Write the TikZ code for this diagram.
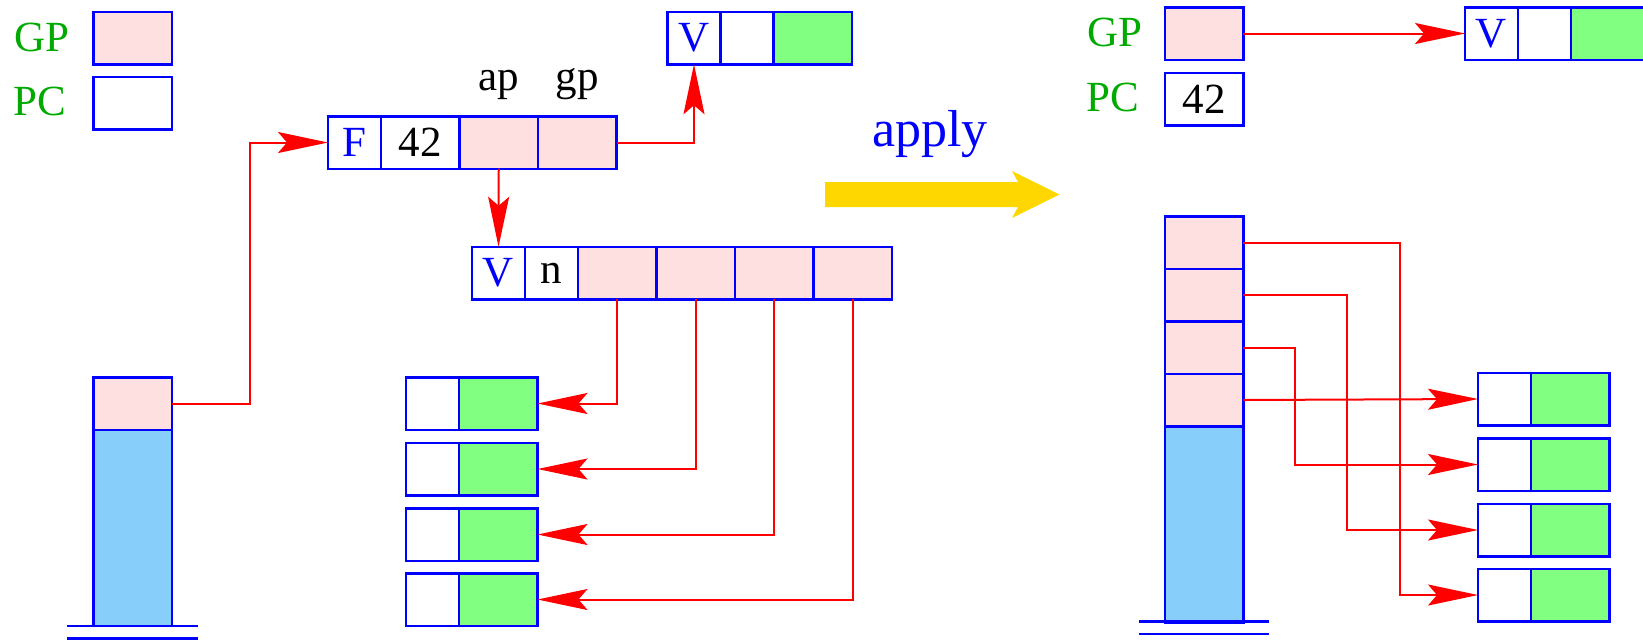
\documentclass[tikz,border=0pt]{standalone}
\usepackage{fontspec}
\setmainfont{Liberation Serif}
\usetikzlibrary{arrows.meta}
\definecolor{cpink}{RGB}{255,224,224}
\definecolor{cgreen}{RGB}{128,255,128}
\definecolor{cblue}{RGB}{135,206,250}
\definecolor{cgold}{RGB}{255,215,0}
\definecolor{tgreen}{RGB}{0,170,0}
\begin{document}
\begin{tikzpicture}[x=0.5pt,y=-0.5pt,
  cell/.style={draw=blue, line width=1.25pt, rectangle, inner sep=0pt, outer sep=0pt,
    minimum height=26.25pt, font=\fontsize{21.5pt}{24pt}\selectfont},
  nar/.style={cell, minimum width=26.5pt},
  wid/.style={cell, minimum width=39.25pt},
  pk/.style={fill=cpink},
  gr/.style={fill=cgreen},
  bl/.style={fill=cblue},
  lab/.style={inner sep=0pt, font=\fontsize{21.5pt}{24pt}\selectfont},
  reg/.style={lab, text=tgreen},
  conn/.style={draw=red, line width=1pt, -{Stealth[length=25pt,width=10.5pt,inset=4.5pt]}},
  floor/.style={draw=blue, line width=1.25pt}]
\useasboundingbox (0,0) rectangle (1643,639);

% ---------- left: registers ----------
\node[reg] (lGP) at (42,37) {GP};
\node[reg] (lPC) at (40,101) {PC};
\node[wid,pk] (gpL) at (132.5,38) {};
\node[wid] (pcL) at (132.5,103) {};

% F object
\node[nar,text=blue] (fF) at (354.5,142.5) {F};
\node[wid,anchor=west] (f42) at (fF.east) {42};
\node[wid,pk,anchor=west] (fap) at (f42.east) {};
\node[wid,pk,anchor=west] (fgp) at (fap.east) {};
\node[lab,anchor=base] (lap) at (498.5,90.5) {ap};
\node[lab,anchor=base] (lgp) at (577,90.5) {gp};

% V object (global vector)
\node[nar,text=blue] (v1) at (694,38) {V};
\node[nar,anchor=west] (v2) at (v1.east) {};
\node[wid,gr,anchor=west] (v3) at (v2.east) {};

% V n object
\node[nar,text=blue] (vV) at (498.5,273) {V};
\node[nar,anchor=west] (vn) at (vV.east) {n};
\node[wid,pk,anchor=west] (p1) at (vn.east) {};
\node[wid,pk,anchor=west] (p2) at (p1.east) {};
\node[wid,pk,anchor=west] (p3) at (p2.east) {};
\node[wid,pk,anchor=west] (p4) at (p3.east) {};

% small boxes left
\node[nar] (sw1) at (432.5,403.5) {};
\node[wid,gr,anchor=west] (sg1) at (sw1.east) {};
\node[nar] (sw2) at (432.5,469) {};
\node[wid,gr,anchor=west] (sg2) at (sw2.east) {};
\node[nar] (sw3) at (432.5,534.5) {};
\node[wid,gr,anchor=west] (sg3) at (sw3.east) {};
\node[nar] (sw4) at (432.5,599.5) {};
\node[wid,gr,anchor=west] (sg4) at (sw4.east) {};

% left stack
\node[wid,pk] (lp) at (132.5,403.5) {};
\node[wid,bl,anchor=north,minimum height=98pt] (lb) at (lp.south) {};
\draw[floor] (67,626) -- (198,626);
\draw[floor] (67,638.5) -- (198,638.5);

% left connectors
\draw[conn] (lp.east) -- ++(78,0) |- (fF.west);
\draw[conn] (fgp.east) -| (v1.south);
\draw[conn] (fap.south) -- (vV.north);
\draw[conn] (p1.south) |- (sg1.east);
\draw[conn] (p2.south) |- (sg2.east);
\draw[conn] (p3.south) |- (sg3.east);
\draw[conn] (p4.south) |- (sg4.east);

% ---------- transition ----------
\node[lab,anchor=base,text=blue,font=\fontsize{26pt}{30pt}\selectfont] (apply) at (930,146) {apply};
\fill[cgold] (825,182) -- (1018,182) -- (1012,171) -- (1059.5,194.5) -- (1012,218) -- (1018,207) -- (825,207) -- cycle;

% ---------- right ----------
\node[reg] (rGP) at (1114.5,32) {GP};
\node[reg] (rPC) at (1113,97) {PC};
\node[wid,pk] (gpR) at (1204,33.5) {};
\node[wid] (pcR) at (1204,99) {42};

\node[nar,text=blue] (rv1) at (1491.5,33.5) {V};
\node[nar,anchor=west] (rv2) at (rv1.east) {};
\node[wid,gr,anchor=west] (rv3) at (rv2.east) {};

% right stack
\node[wid,pk] (r1) at (1204,242.5) {};
\node[wid,pk,anchor=north] (r2) at (r1.south) {};
\node[wid,pk,anchor=north] (r3) at (r2.south) {};
\node[wid,pk,anchor=north] (r4) at (r3.south) {};
\node[wid,bl,anchor=north,minimum height=98pt] (rb) at (r4.south) {};
\draw[floor] (1139,621.5) -- (1269,621.5);
\draw[floor] (1139,634) -- (1269,634);

% small boxes right
\node[nar] (rw1) at (1504.5,399) {};
\node[wid,gr,anchor=west] (rg1) at (rw1.east) {};
\node[nar] (rw2) at (1504.5,464.5) {};
\node[wid,gr,anchor=west] (rg2) at (rw2.east) {};
\node[nar] (rw3) at (1504.5,530) {};
\node[wid,gr,anchor=west] (rg3) at (rw3.east) {};
\node[nar] (rw4) at (1504.5,595) {};
\node[wid,gr,anchor=west] (rg4) at (rw4.east) {};

% right connectors
\draw[conn] (gpR.east) -- (rv1.west);
\draw[conn] (r4.east) -- (rw1.west);
\draw[conn] (r3.east) -- ++(51.5,0) |- (rw2.west);
\draw[conn] (r2.east) -- ++(103.5,0) |- (rw3.west);
\draw[conn] (r1.east) -- ++(156.5,0) |- (rw4.west);
\end{tikzpicture}
\end{document}
